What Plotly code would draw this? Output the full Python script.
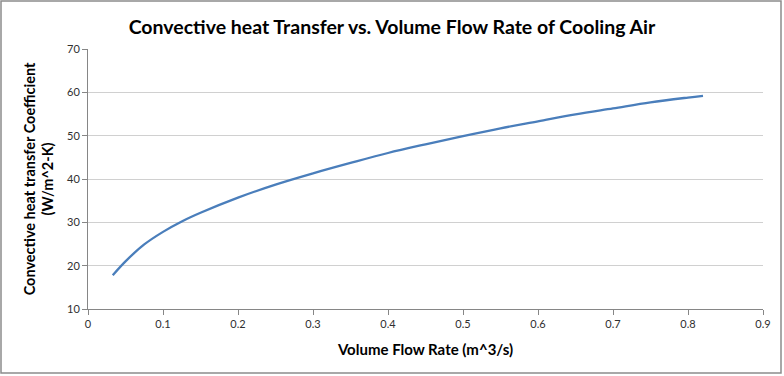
import plotly.graph_objects as go

flow_rate = [0.033, 0.05, 0.075, 0.1, 0.125, 0.15, 0.2, 0.25, 0.3, 0.35, 0.4,
             0.45, 0.5, 0.55, 0.6, 0.65, 0.7, 0.75, 0.8, 0.82]
htc = [17.8, 21.0, 24.9, 27.8, 30.2, 32.2, 35.7, 38.7, 41.3, 43.7, 46.0,
       48.0, 49.9, 51.7, 53.3, 54.9, 56.3, 57.7, 58.8, 59.2]

FONT = "Lato, 'Open Sans', sans-serif"
W, H = 784, 376
L, R, T, B = 88, 21, 49, 67
pw, ph = W - L - R, H - T - B

fig = go.Figure()
fig.add_trace(go.Scatter(x=flow_rate, y=htc, mode="lines",
                         line=dict(color="#4A7EBB", width=2.3, shape="spline"),
                         showlegend=False))

fig.update_layout(
    width=W, height=H,
    margin=dict(l=L, r=R, t=T, b=B, autoexpand=False),
    paper_bgcolor="white", plot_bgcolor="white",
    title=dict(text="<b>Convective heat Transfer vs. Volume Flow Rate of Cooling Air</b>",
               x=0.5, xanchor="center", y=1 - 27 / H, yanchor="middle",
               automargin=False,
               font=dict(family=FONT, size=19.5, color="#000000")),
    xaxis=dict(range=[0, 0.9], dtick=0.1, tick0=0, showgrid=False, zeroline=False,
               showline=True, linecolor="#868686", linewidth=1, automargin=False,
               ticks="outside", ticklen=5, tickcolor="#868686",
               tickfont=dict(family=FONT, size=11, color="#303030"),
               title=dict(text="<b>Volume Flow Rate (m^3/s)</b>", standoff=15,
                          font=dict(family=FONT, size=15, color="#000000"))),
    yaxis=dict(range=[10, 70], dtick=10, showgrid=True, gridcolor="#D0D0D0", gridwidth=1,
               zeroline=False, showline=True, linecolor="#868686", linewidth=1,
               automargin=False,
               ticks="outside", ticklen=5, tickcolor="#868686",
               tickfont=dict(family=FONT, size=11, color="#303030"),
               title=dict(text="<b>Convective heat transfer Coefficient<br>(W/m^2-K)</b>",
                          standoff=9,
                          font=dict(family=FONT, size=14.5, color="#000000"))),
)

fig.add_shape(type="rect", xref="paper", yref="paper",
              x0=-(L - 1) / pw, x1=1 + (R - 3) / pw,
              y0=-(B - 3) / ph, y1=1 + (T - 1) / ph,
              line=dict(color="#8C8C8C", width=1.5), layer="below")

fig.write_html("out.html", config={"displayModeBar": False},
               post_script="document.body.style.margin='0';")
